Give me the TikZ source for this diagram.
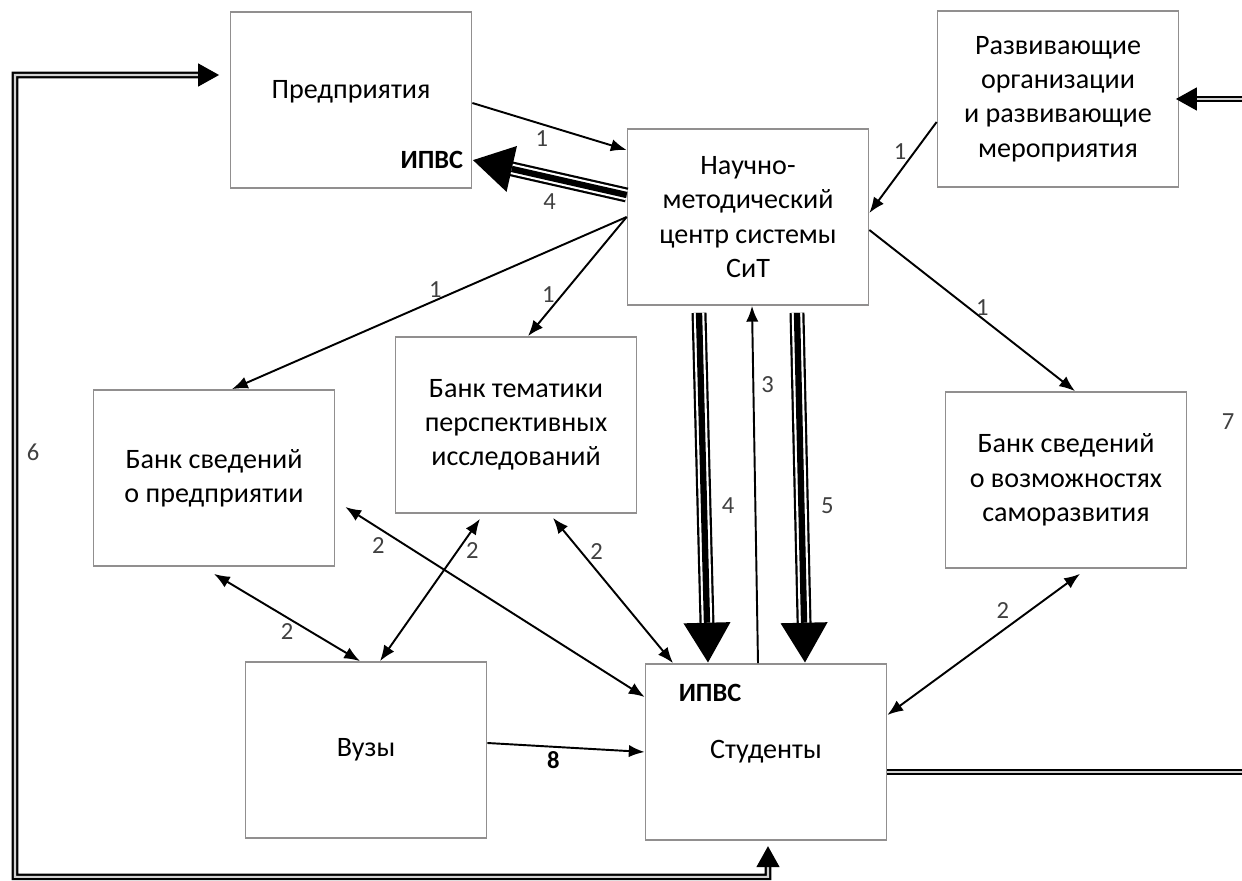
\documentclass[tikz,border=0pt]{standalone}
\usepackage[dvipsnames]{xcolor}
\usepackage{fontspec}
\setmainfont{Carlito}
\usetikzlibrary{arrows.meta}
\newcommand{\corCaixa}{Gray}
\newcommand{\corLinha}{black}
\newcommand{\corNum}{black!75}

\begin{document}
\begin{tikzpicture}[x=0.02cm, y=-0.02cm,
  caixa/.style={draw=\corCaixa, line width=1pt, minimum width=4.82cm, minimum height=3.52cm,
    align=center, inner sep=0pt, font=\fontsize{16}{19.5}\selectfont},
  seta/.style={draw=\corLinha, line width=1.1pt, -{Latex[length=9pt, width=7pt]}},
  setadupla/.style={draw=\corLinha, line width=1.1pt, {Latex[length=9pt, width=7pt]}-{Latex[length=9pt, width=7pt]}},
  setatripla/.style={draw=\corLinha, line width=8.5pt, -{Triangle[length=23pt, width=25pt]},
    postaction={draw=white, line width=6pt, -, shorten >=23pt},
    postaction={draw=\corLinha, line width=3.6pt, -, shorten >=23pt}},
  linhadupla/.style={draw=\corLinha, line width=1.3pt, double=gray!35, double distance=1.2pt},
  num/.style={text=\corNum, inner sep=1pt, font=\fontsize{14}{16}\selectfont},
  ipvs/.style={inner sep=1pt, font=\fontsize{15}{17}\selectfont\bfseries}]
\useasboundingbox (0,0) rectangle (1242,881);

  % caixas
  \node[caixa, text depth=12pt] (pred) at (351,100) {Предприятия};
  \node[caixa] (desenv) at (1058,99) {Развивающие\\организации\\и развивающие\\мероприятия};
  \node[caixa] (centro) at (748,217) {Научно-\\методический\\центр системы\\СиТ};
  \node[caixa] (banco1) at (214,478) {Банк сведений\\о предприятии};
  \node[caixa] (banco2) at (516,425) {Банк тематики\\перспективных\\исследований};
  \node[caixa] (banco3) at (1066,480) {Банк сведений\\о возможностях\\саморазвития};
  \node[caixa] (vuz) at (366,750) {Вузы};
  \node[caixa] (stud) at (766,752) {Студенты};

  % setas 1
  \draw[seta] ([yshift=-0.06cm]pred.east) -- ([yshift=1.34cm]centro.west)
    node[num, pos=0.45, below=2pt] {1};
  \draw[seta] ([yshift=-0.46cm]desenv.west) -- ([yshift=0.08cm]centro.east)
    node[num, pos=0.33, left=3pt] {1};
  \draw[seta] (centro.west) -- ([xshift=0.36cm]banco1.north)
    node[num, pos=0.485, above=0pt] {1};
  \draw[seta] (centro.west) -- ([xshift=0.24cm]banco2.north)
    node[num, pos=0.65, left=3pt] {1};
  \draw[seta] ([yshift=-0.26cm]centro.east) -- ([xshift=0.18cm]banco3.north)
    node[num, pos=0.55, above=0pt] {1};

  % setas 2
  \draw[setadupla] ([yshift=-0.14cm]banco1.south) -- ([xshift=-0.12cm]vuz.north)
    node[num, pos=0.5, below=2pt] {2};
  \draw[setadupla] ([xshift=-0.72cm, yshift=-0.1cm]banco2.south) -- ([xshift=0.28cm]vuz.north)
    node[num, pos=0.22, right=3pt] {2};
  \draw[setadupla] ([xshift=0.2cm, yshift=-0.58cm]banco1.east) -- ([yshift=1.1cm]stud.west)
    node[num, pos=0.11, below=4pt] {2};
  \draw[setadupla] ([xshift=0.74cm, yshift=-0.08cm]banco2.south) -- ([xshift=-1.86cm]stud.north)
    node[num, pos=0.23, right=4pt] {2};
  \draw[setadupla] ([xshift=0.28cm, yshift=-0.1cm]banco3.south) -- ([yshift=0.74cm]stud.east)
    node[num, pos=0.4, above=5pt] {2};

  % setas 3, 4, 5
  \draw[seta] ([xshift=-0.16cm]stud.north) -- ([xshift=0.08cm]centro.south)
    node[num, pos=0.78, right=3pt] {3};
  \draw[setatripla] ([yshift=0.44cm]centro.west) -- ([yshift=-1.2cm]pred.east)
    node[num, pos=0.5, below=4pt] {4}
    node[ipvs, pos=1, anchor=east] {ИПВС};
  \draw[setatripla] ([xshift=-0.98cm, yshift=-0.14cm]centro.south) -- ([xshift=-1.16cm]stud.north)
    node[num, pos=0.55, right=5pt] {4};
  \draw[setatripla] ([xshift=0.98cm, yshift=-0.14cm]centro.south) -- ([xshift=0.78cm]stud.north)
    node[num, pos=0.55, right=6pt] {5};
  \node[ipvs] (ipvs) at (710,693) {ИПВС};

  % setas 6, 7, 8
  \draw[linhadupla, {Triangle[length=12pt, width=13pt]}-{Triangle[length=12pt, width=13pt]},
    shorten <=3pt, shorten >=6pt]
    ([xshift=0.04cm]stud.south) -- ++(0,36) -| (15,75) -- ([yshift=0.5cm]pred.west);
  \node[num] (n6) at (33,452) {6};
  \draw[linhadupla, -{Triangle[length=12pt, width=13pt]}, shorten >=-2pt]
    ([yshift=-0.4cm]stud.east) -| ([xshift=1.5cm]desenv.east) -- (desenv.east);
  \node[num] (n7) at (1228,422) {7};
  \draw[seta] ([yshift=0.14cm]vuz.east) -- (stud.west)
    node[num, pos=0.42, below=1pt, text=black, font=\fontsize{14}{16}\selectfont\bfseries] {8};

\end{tikzpicture}
\end{document}
